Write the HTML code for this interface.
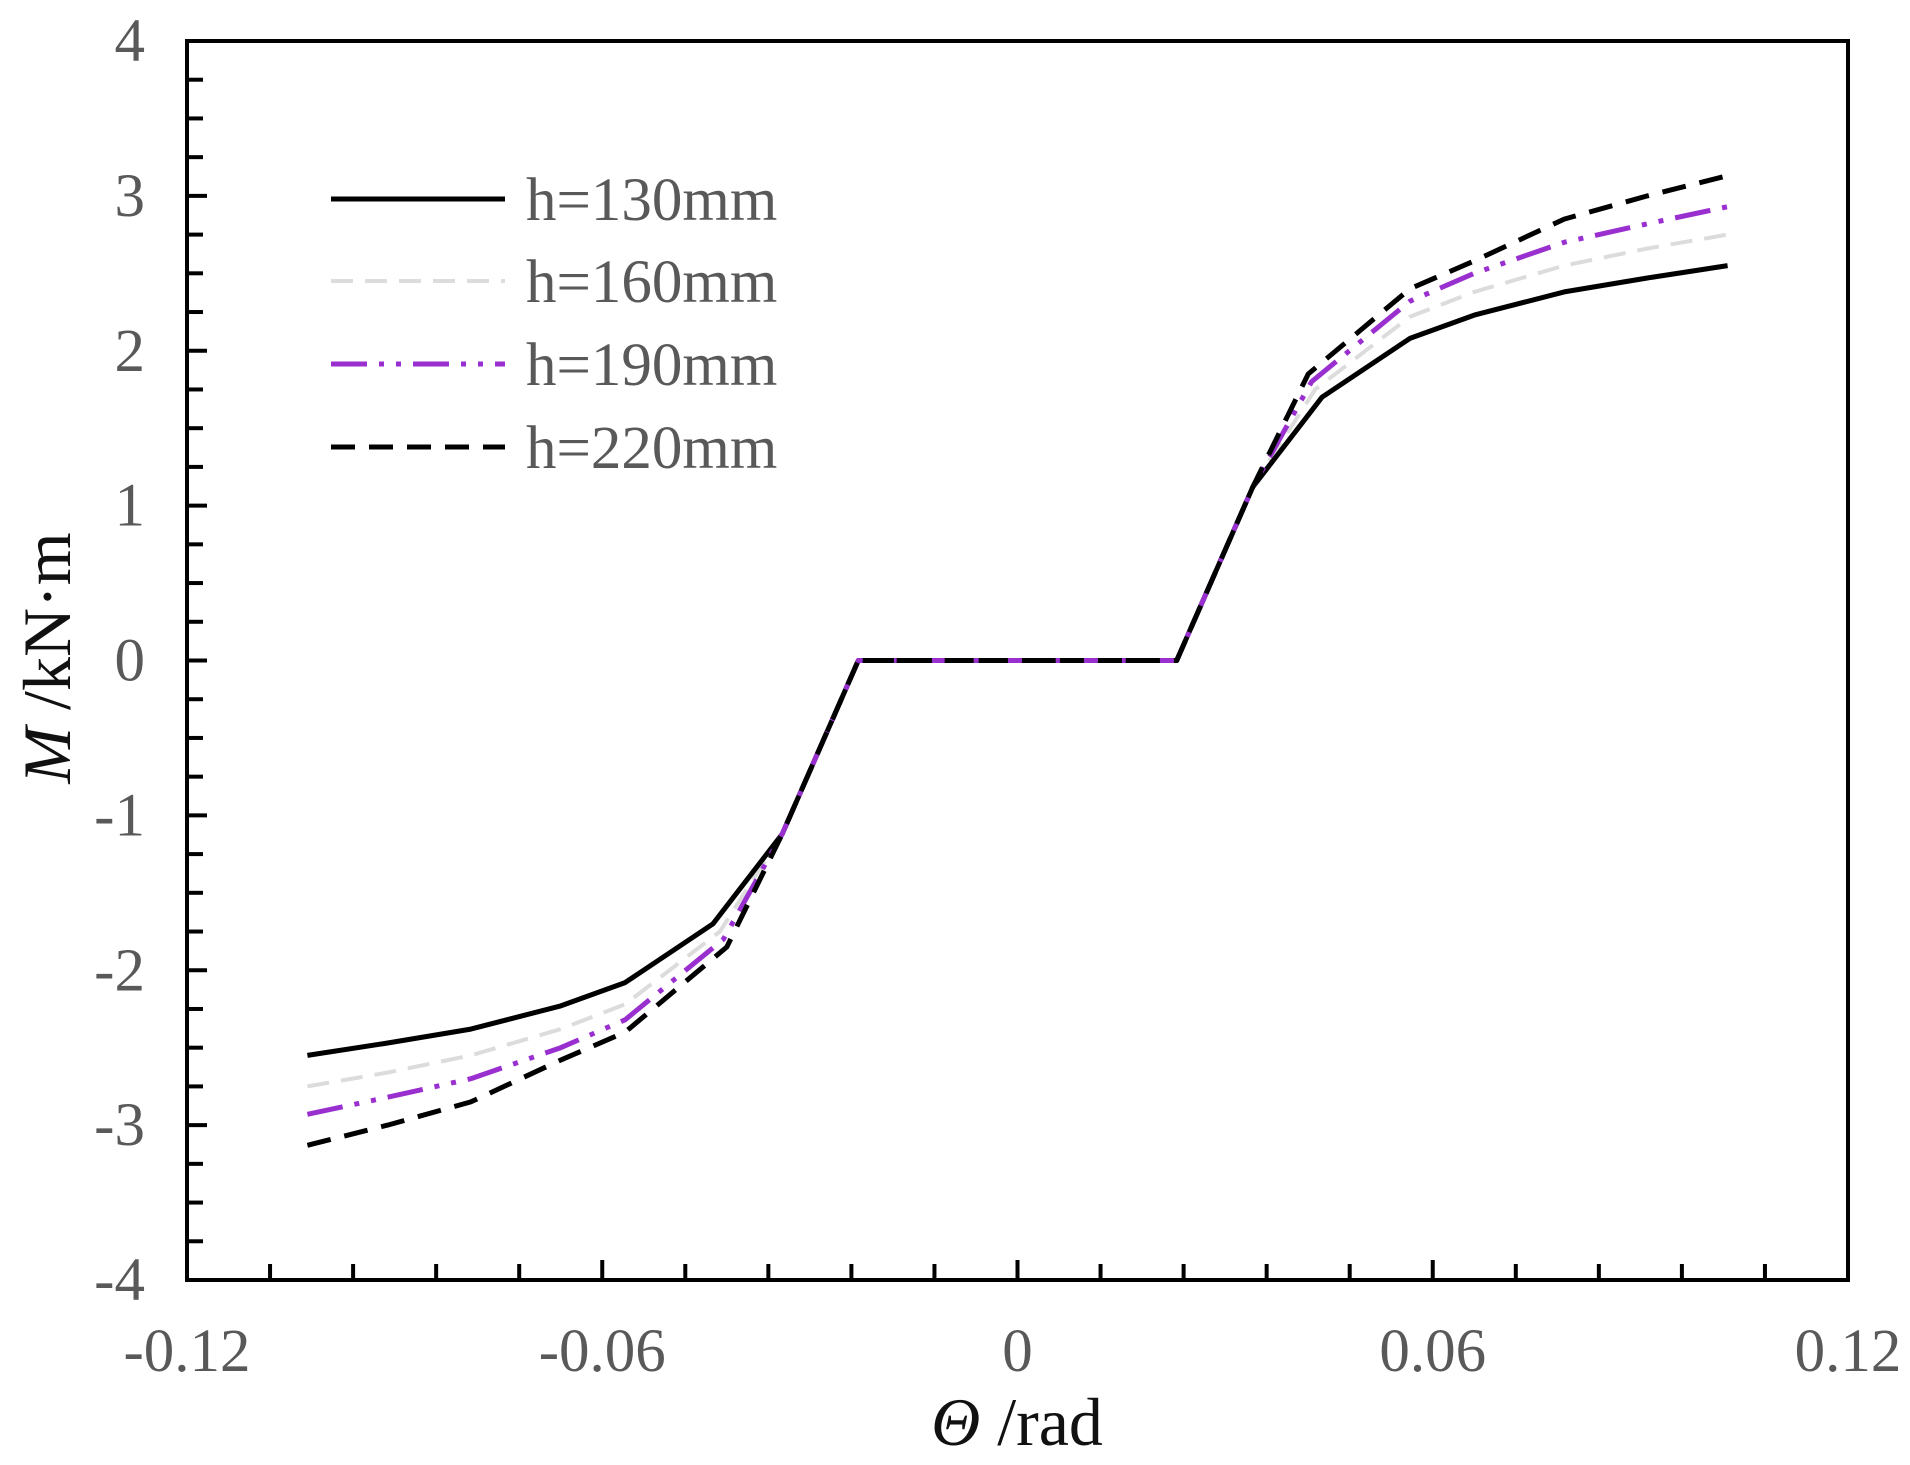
<!DOCTYPE html>
<html><head><meta charset="utf-8"><style>html,body{margin:0;padding:0;background:#fff;}svg{display:block}</style></head>
<body>
<svg id="s" width="1910" height="1465" xmlns="http://www.w3.org/2000/svg" font-family="Liberation Serif, serif" fill="#595959"></svg>
<script>
const s=document.getElementById('s');
const L=187,R=1848,T=41,B=1280;
const X=v=>L+(v+0.12)/0.24*(R-L), Y=v=>T+(4-v)/8*(B-T);
let h='';
for(let i=-4;i<=4;i+=0.25){const y=Y(i);const maj=Math.abs(i-Math.round(i))<1e-6;h+=`<line x1="${L}" x2="${L+(maj?20:16)}" y1="${y}" y2="${y}" stroke="#000" stroke-width="4"/>`;
 if(maj){h+=`<text x="${L-42}" y="${y+20}" font-size="61" text-anchor="end">${i}</text>`;}}
for(let k=-10;k<=10;k++){const v=k*0.012;const x=X(v);const maj=k%5==0;h+=`<line x1="${x}" x2="${x}" y1="${B}" y2="${B-(maj?20:16)}" stroke="#000" stroke-width="4"/>`;
 if(maj){h+=`<text x="${x}" y="${B+91}" font-size="61" text-anchor="middle">${v==0?'0':v.toFixed(2)}</text>`;}}
h+=`<rect x="${L}" y="${T}" width="${R-L}" height="${B-T}" fill="none" stroke="#000" stroke-width="4"/>`;
const com=[[0.023,0],[0.034,1.12]];
const data=[
 [[0.044,1.70],[0.0567,2.08],[0.066,2.23],[0.079,2.38],[0.091,2.47],[0.1026,2.55]],
 [[0.043,1.75],[0.0567,2.22],[0.066,2.38],[0.079,2.55],[0.091,2.66],[0.1026,2.75]],
 [[0.0425,1.80],[0.0567,2.32],[0.066,2.50],[0.079,2.70],[0.091,2.82],[0.1026,2.93]],
 [[0.042,1.85],[0.0567,2.40],[0.066,2.58],[0.079,2.85],[0.091,3.0],[0.1026,3.13]]];
const st=[
 'stroke="#000" stroke-width="5"',
 'stroke="#dcdcdc" stroke-width="4" stroke-dasharray="22,12"',
 'stroke="#9a2fd0" stroke-width="5" stroke-dasharray="36,12,5,12,5,12"',
 'stroke="#000" stroke-width="5" stroke-dasharray="24,14"'];
for(const i of [1,0,2,3]){
 const pos=com.concat(data[i]);
 const neg=pos.map(p=>[-p[0],-p[1]]).reverse();
 const pts=neg.concat(pos);
 h+=`<polyline fill="none" ${st[i]} stroke-linejoin="round" points="${pts.map(p=>X(p[0]).toFixed(1)+','+Y(p[1]).toFixed(1)).join(' ')}"/>`;
}
const labs=['h=130mm','h=160mm','h=190mm','h=220mm'],ly=[199,281,364,447];
for(let i=0;i<4;i++){h+=`<line x1="331" x2="505" y1="${ly[i]}" y2="${ly[i]}" ${st[i]}/>`;
 h+=`<text x="526" y="${ly[i]+21}" font-size="61">${labs[i]}</text>`;}
h+=`<text x="1017" y="1445" font-size="68" fill="#111" text-anchor="middle"><tspan font-style="italic">Θ</tspan> /rad</text>`;
h+=`<text transform="translate(70,658) rotate(-90)" font-size="68" fill="#111" text-anchor="middle"><tspan font-style="italic">M</tspan> /kN·m</text>`;
s.innerHTML=h;
</script>
</body></html>
